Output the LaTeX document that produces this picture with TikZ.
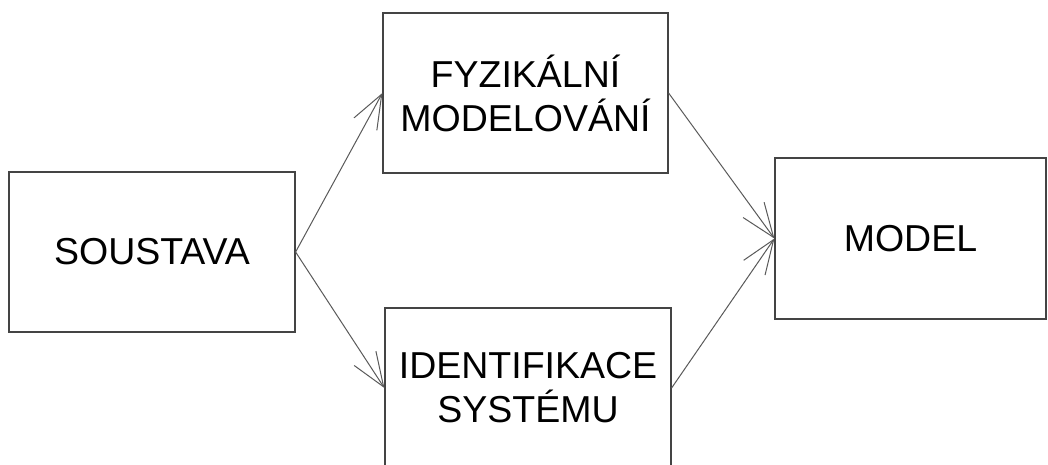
\documentclass[tikz,border=0pt]{standalone}
\usepackage{fontspec}
\setmainfont{Liberation Sans}
\usetikzlibrary{arrows.meta}
\definecolor{boxline}{HTML}{444444}
\definecolor{arrline}{HTML}{5A5A5A}
\begin{document}
\begin{tikzpicture}[x=1pt,y=-1pt,
  blk/.style={draw=boxline, line width=1.2pt, inner sep=0pt, align=center,
    font=\fontsize{37.5}{44}\selectfont},
  conn/.style={draw=arrline, line width=1pt,
    -{Straight Barb[length=34pt, width=26pt, line width=1pt]}}]
\useasboundingbox[fill=white] (0,0) rectangle (1048,464);
\node[blk, minimum width=286pt, minimum height=160pt] (soust) at (152,252) {SOUSTAVA};
\node[blk, minimum width=285pt, minimum height=160pt] (fyz) at (525.5,93) {FYZIKÁLNÍ\\MODELOVÁNÍ};
\node[blk, minimum width=286pt, minimum height=160pt] (ident) at (528,388) {IDENTIFIKACE\\SYSTÉMU};
\node[blk, minimum width=271pt, minimum height=161pt] (model) at (910.5,238.5) {MODEL};
\draw[conn] (soust.east) -- (fyz.west);
\draw[conn] (soust.east) -- (ident.west);
\draw[conn] (fyz.east) -- (model.west);
\draw[conn] (ident.east) -- (model.west);
\end{tikzpicture}
\end{document}
